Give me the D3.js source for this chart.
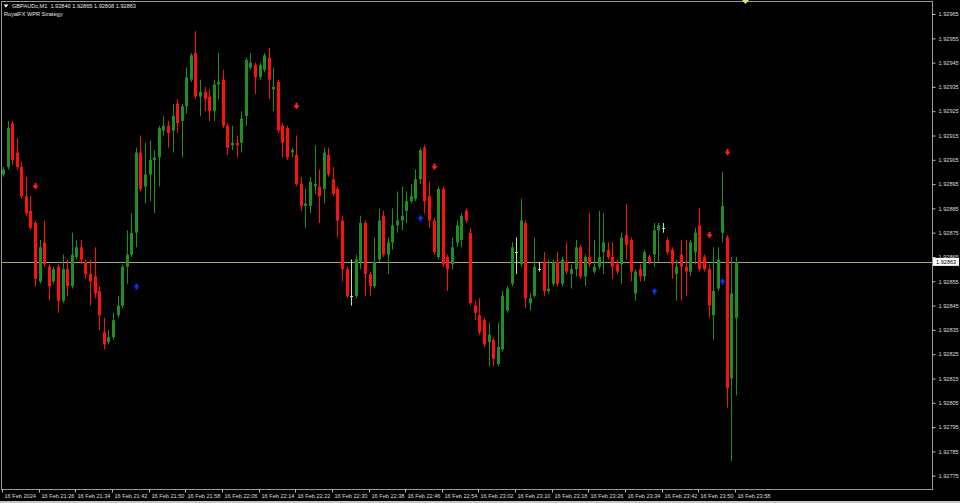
<!DOCTYPE html>
<html><head><meta charset="utf-8">
<script src="https://cdn.jsdelivr.net/npm/d3@7"></script>
<style>html,body{margin:0;padding:0;background:#000;overflow:hidden}</style>
</head><body><svg id="c" width="960" height="503"></svg>
<script>
// ---- DATA (GBPAUDc, M1, 16 Feb 2024 from 21:18) ----
const symbolTitle = "GBPAUDc,M1  1.92840 1.92865 1.92808 1.92863";
const indicatorTitle = "RoyalFX WPR Strategy";
const startTime = "2024-02-16T21:18:00";
const opens = [1.92899,1.92902,1.92920,1.92908,1.92902,1.92890,1.92884,1.92879,1.92855,1.92871,
1.92861,1.92855,1.92861,1.92847,1.92860,1.92853,1.92865,1.92869,1.92863,1.92858,
1.92857,1.92851,1.92834,1.92830,1.92832,1.92841,1.92845,1.92861,1.92866,1.92875,
1.92908,1.92894,1.92899,1.92905,1.92906,1.92917,1.92919,1.92917,1.92928,1.92921,
1.92927,1.92938,1.92949,1.92931,1.92933,1.92931,1.92925,1.92936,1.92938,1.92919,
1.92911,1.92912,1.92912,1.92923,1.92943,1.92944,1.92939,1.92942,1.92947,1.92934,
1.92937,1.92919,1.92918,1.92908,1.92907,1.92895,1.92886,1.92886,1.92894,1.92894,
1.92893,1.92907,1.92897,1.92893,1.92880,1.92860,1.92849,1.92849,1.92863,1.92879,
1.92858,1.92853,1.92864,1.92882,1.92866,1.92871,1.92878,1.92880,1.92884,1.92888,
1.92889,1.92897,1.92910,1.92890,1.92880,1.92865,1.92893,1.92865,1.92862,1.92871,
1.92872,1.92884,1.92875,1.92845,1.92841,1.92839,1.92830,1.92831,1.92821,1.92827,
1.92843,1.92854,1.92867,1.92862,1.92879,1.92846,1.92849,1.92860,1.92863,1.92851,
1.92854,1.92863,1.92854,1.92863,1.92858,1.92860,1.92869,1.92857,1.92865,1.92859,
1.92861,1.92867,1.92868,1.92865,1.92862,1.92862,1.92874,1.92872,1.92850,1.92860,
1.92857,1.92865,1.92866,1.92876,1.92877,1.92872,1.92868,1.92858,1.92866,1.92861,
1.92859,1.92867,1.92878,1.92865,1.92860,1.92841,1.92852,1.92875,1.92873,1.92815,
1.92840];
const highs = [1.92902,1.92921,1.92921,1.92914,1.92904,1.92898,1.92890,1.92880,1.92872,1.92880,
1.92862,1.92861,1.92862,1.92866,1.92864,1.92875,1.92872,1.92872,1.92864,1.92864,
1.92869,1.92853,1.92840,1.92835,1.92842,1.92849,1.92862,1.92876,1.92883,1.92910,
1.92915,1.92912,1.92913,1.92909,1.92919,1.92923,1.92921,1.92928,1.92930,1.92928,
1.92943,1.92949,1.92958,1.92938,1.92935,1.92934,1.92938,1.92949,1.92942,1.92920,
1.92919,1.92915,1.92925,1.92947,1.92949,1.92945,1.92945,1.92949,1.92951,1.92943,
1.92938,1.92920,1.92919,1.92910,1.92915,1.92898,1.92893,1.92898,1.92911,1.92901,
1.92910,1.92910,1.92902,1.92894,1.92882,1.92861,1.92864,1.92866,1.92882,1.92880,
1.92859,1.92873,1.92885,1.92884,1.92873,1.92885,1.92892,1.92894,1.92892,1.92895,
1.92901,1.92910,1.92911,1.92896,1.92881,1.92894,1.92894,1.92866,1.92873,1.92880,
1.92883,1.92885,1.92877,1.92847,1.92848,1.92840,1.92838,1.92832,1.92838,1.92851,
1.92853,1.92871,1.92873,1.92889,1.92880,1.92850,1.92873,1.92863,1.92867,1.92864,
1.92864,1.92867,1.92865,1.92871,1.92862,1.92872,1.92870,1.92866,1.92883,1.92872,
1.92884,1.92883,1.92871,1.92871,1.92864,1.92875,1.92887,1.92873,1.92860,1.92862,
1.92868,1.92866,1.92879,1.92879,1.92879,1.92873,1.92869,1.92864,1.92872,1.92872,
1.92872,1.92877,1.92885,1.92866,1.92862,1.92869,1.92869,1.92900,1.92874,1.92865,
1.92865];
const lows = [1.92898,1.92901,1.92903,1.92901,1.92889,1.92882,1.92876,1.92853,1.92854,1.92861,
1.92847,1.92854,1.92842,1.92846,1.92849,1.92852,1.92864,1.92862,1.92856,1.92845,
1.92848,1.92835,1.92827,1.92829,1.92831,1.92840,1.92844,1.92854,1.92865,1.92869,
1.92892,1.92887,1.92888,1.92883,1.92894,1.92915,1.92910,1.92908,1.92916,1.92906,
1.92924,1.92937,1.92930,1.92923,1.92925,1.92921,1.92921,1.92930,1.92918,1.92907,
1.92909,1.92906,1.92908,1.92919,1.92942,1.92932,1.92938,1.92941,1.92930,1.92925,
1.92916,1.92906,1.92905,1.92906,1.92894,1.92884,1.92877,1.92883,1.92891,1.92879,
1.92887,1.92898,1.92890,1.92873,1.92855,1.92848,1.92845,1.92848,1.92860,1.92849,
1.92849,1.92852,1.92863,1.92865,1.92858,1.92868,1.92875,1.92876,1.92879,1.92887,
1.92888,1.92895,1.92883,1.92877,1.92866,1.92864,1.92861,1.92851,1.92860,1.92869,
1.92869,1.92879,1.92845,1.92839,1.92833,1.92828,1.92820,1.92820,1.92820,1.92826,
1.92842,1.92853,1.92858,1.92861,1.92844,1.92843,1.92848,1.92859,1.92849,1.92850,
1.92853,1.92853,1.92853,1.92858,1.92852,1.92857,1.92856,1.92853,1.92861,1.92858,
1.92860,1.92858,1.92864,1.92856,1.92858,1.92854,1.92864,1.92855,1.92847,1.92855,
1.92855,1.92862,1.92861,1.92863,1.92875,1.92866,1.92856,1.92847,1.92847,1.92849,
1.92857,1.92862,1.92859,1.92859,1.92840,1.92831,1.92851,1.92871,1.92803,1.92781,
1.92808];
const closes = [1.92901,1.92918,1.92905,1.92902,1.92890,1.92883,1.92877,1.92856,1.92869,1.92862,
1.92853,1.92860,1.92847,1.92860,1.92853,1.92866,1.92869,1.92864,1.92858,1.92855,
1.92850,1.92841,1.92829,1.92832,1.92839,1.92845,1.92861,1.92866,1.92875,1.92908,
1.92893,1.92899,1.92905,1.92906,1.92918,1.92919,1.92916,1.92923,1.92920,1.92927,
1.92939,1.92948,1.92931,1.92933,1.92930,1.92925,1.92936,1.92937,1.92919,1.92910,
1.92912,1.92911,1.92922,1.92946,1.92945,1.92939,1.92944,1.92948,1.92938,1.92935,
1.92917,1.92912,1.92906,1.92909,1.92895,1.92886,1.92887,1.92896,1.92895,1.92890,
1.92908,1.92899,1.92891,1.92880,1.92860,1.92849,1.92849,1.92864,1.92879,1.92858,
1.92853,1.92863,1.92880,1.92866,1.92871,1.92878,1.92880,1.92882,1.92888,1.92890,
1.92897,1.92909,1.92888,1.92880,1.92867,1.92893,1.92862,1.92860,1.92869,1.92878,
1.92882,1.92880,1.92846,1.92842,1.92834,1.92829,1.92833,1.92823,1.92828,1.92849,
1.92852,1.92869,1.92867,1.92880,1.92848,1.92848,1.92861,1.92860,1.92851,1.92852,
1.92863,1.92854,1.92864,1.92859,1.92860,1.92869,1.92857,1.92865,1.92862,1.92861,
1.92865,1.92871,1.92865,1.92861,1.92859,1.92873,1.92870,1.92859,1.92859,1.92857,
1.92867,1.92863,1.92876,1.92878,1.92877,1.92867,1.92862,1.92861,1.92861,1.92859,
1.92871,1.92875,1.92860,1.92860,1.92845,1.92851,1.92864,1.92886,1.92811,1.92850,
1.92863];
// WPR strategy signals: bar index and arrow price
const sellBars   = [7, 64, 94, 154, 158];
const sellPrices = [1.92894, 1.92927, 1.92902, 1.92874, 1.92908];
const buyBars    = [29, 91, 142, 157];
const buyPrices  = [1.92853, 1.92881, 1.92851, 1.92855];
const bidPrice = 1.92863;
const priceTicks = [1.92965,1.92955,1.92945,1.92935,1.92925,1.92915,1.92905,1.92895,1.92885,1.92875,
1.92865,1.92855,1.92845,1.92835,1.92825,1.92815,1.92805,1.92795,1.92785,1.92775];
const timeTickBars = [0,8,16,24,32,40,48,56,64,72,80,88,96,104,112,120,128,136,144,152,160];
const timeTickLabels = ["16 Feb 2024","16 Feb 21:26","16 Feb 21:34","16 Feb 21:42","16 Feb 21:50",
"16 Feb 21:58","16 Feb 22:06","16 Feb 22:14","16 Feb 22:22","16 Feb 22:30","16 Feb 22:38",
"16 Feb 22:46","16 Feb 22:54","16 Feb 23:02","16 Feb 23:10","16 Feb 23:18","16 Feb 23:26",
"16 Feb 23:34","16 Feb 23:42","16 Feb 23:50","16 Feb 23:58"];

// ---- DRAW ----
const W = 960, H = 503;
const FONT = "'Liberation Sans', Arial, sans-serif";
const UP = "#1f8f1f", DOWN = "#ff1010", DOJI = "#b8e8b0";
const svg = d3.select("#c");
svg.append("rect").attr("width", W).attr("height", H).attr("fill", "#000");

const t0 = new Date(startTime);
const times = opens.map((_, i) => new Date(t0.getTime() + i * 60000));
const bars = opens.map((o, i) => ({i, t: times[i], o, h: highs[i], l: lows[i], c: closes[i]}));

const x = d3.scaleTime().domain([times[0], times[times.length - 1]]).range([3, 736]);
const y = d3.scaleLinear().domain([1.92965, 1.92775]).range([14, 475.7]);
const px = d => Math.round(x(d)) + 0.5;

// plot frame
svg.append("rect").attr("x", 1.5).attr("y", 1.5).attr("width", 931).attr("height", 488)
  .attr("fill", "none").attr("stroke", "#9a9a9a").attr("stroke-width", 1);
svg.append("rect").attr("x", 0).attr("y", 501).attr("width", W).attr("height", 2).attr("fill", "#c4c4c4");

// bid line
svg.append("line").attr("x1", 2).attr("x2", 932)
  .attr("y1", Math.round(y(bidPrice)) + 0.5).attr("y2", Math.round(y(bidPrice)) + 0.5)
  .attr("stroke", "#a8a86a").attr("stroke-width", 1);

// candles
const g = svg.append("g");
const col = d => d.c > d.o ? UP : (d.c < d.o ? DOWN : DOJI);
g.selectAll("line.wick").data(bars).join("line").attr("class", "wick")
  .attr("x1", d => px(d.t)).attr("x2", d => px(d.t))
  .attr("y1", d => y(d.h)).attr("y2", d => y(d.l))
  .attr("stroke", col).attr("stroke-width", 1);
g.selectAll("rect.body").data(bars.filter(d => d.o !== d.c)).join("rect").attr("class", "body")
  .attr("x", d => px(d.t) - 1.5).attr("width", 3)
  .attr("y", d => y(Math.max(d.o, d.c)))
  .attr("height", d => Math.max(1, Math.abs(y(d.o) - y(d.c))))
  .attr("fill", col);
g.selectAll("line.doji").data(bars.filter(d => d.o === d.c)).join("line").attr("class", "doji")
  .attr("x1", d => px(d.t) - 1.5).attr("x2", d => px(d.t) + 1.5)
  .attr("y1", d => Math.round(y(d.o)) + 0.5).attr("y2", d => Math.round(y(d.o)) + 0.5)
  .attr("stroke", DOJI).attr("stroke-width", 1);

// signal arrows
const downArrow = "M-1,-3.5h2v2.5h2l-3,4l-3,-4h2z";
const upArrow = "M-1,3.5h2v-2.5h2l-3,-4l-3,4h2z";
svg.selectAll("path.sell").data(sellBars.map((b, k) => ({t: times[b], p: sellPrices[k]}))).join("path")
  .attr("class", "sell").attr("d", downArrow)
  .attr("transform", d => `translate(${px(d.t)},${y(d.p)})`).attr("fill", "#ff2020");
svg.selectAll("path.buy").data(buyBars.map((b, k) => ({t: times[b], p: buyPrices[k]}))).join("path")
  .attr("class", "buy").attr("d", upArrow)
  .attr("transform", d => `translate(${px(d.t)},${y(d.p)})`).attr("fill", "#1a2aff");

// price axis
const ya = svg.append("g").attr("transform", "translate(932.5,0)")
  .call(d3.axisRight(y).tickValues(priceTicks).tickFormat(d3.format(".5f")).tickSize(3).tickPadding(3));
ya.select(".domain").remove();
ya.selectAll(".tick line").attr("stroke", "#bbbbbb");
ya.selectAll(".tick text").attr("fill", "#dcdcdc").style("font-family", FONT).style("font-size", "5.6px");

// bid label
const by = y(bidPrice);
svg.append("rect").attr("x", 933).attr("y", by - 4).attr("width", 26).attr("height", 8).attr("fill", "#ffffff");
svg.append("text").attr("x", 936).attr("y", by + 2).text(d3.format(".5f")(bidPrice))
  .attr("fill", "#000").style("font-family", FONT).style("font-size", "5.6px");

// time axis
const xa = svg.append("g").attr("transform", "translate(0,489.5)")
  .call(d3.axisBottom(x).tickValues(timeTickBars.map(b => times[b]))
    .tickFormat((d, k) => timeTickLabels[k]).tickSize(3).tickPadding(2));
xa.select(".domain").remove();
xa.selectAll(".tick").attr("transform", d => `translate(${px(d) - 1},0)`);
xa.selectAll(".tick line").attr("stroke", "#bbbbbb");
xa.selectAll(".tick text").attr("text-anchor", "start").attr("x", 2).attr("dy", "0.6em")
  .attr("fill", "#dcdcdc").style("font-family", FONT).style("font-size", "5.6px");

// titles
svg.append("path").attr("d", "M3.5,4.5h5l-2.5,3z").attr("fill", "#ffffff");
svg.append("text").attr("x", 12).attr("y", 7.5).text(symbolTitle).attr("xml:space", "preserve")
  .style("white-space", "pre").attr("fill", "#e8e8e8").style("font-family", FONT).style("font-size", "5.6px");
svg.append("text").attr("x", 4).attr("y", 15.5).text(indicatorTitle)
  .attr("fill", "#e8e8e8").style("font-family", FONT).style("font-size", "5.6px");
// chart shift marker
svg.append("path").attr("d", "M742,0h7l-3.5,4z").attr("fill", "#e8e070");
</script></body></html>
